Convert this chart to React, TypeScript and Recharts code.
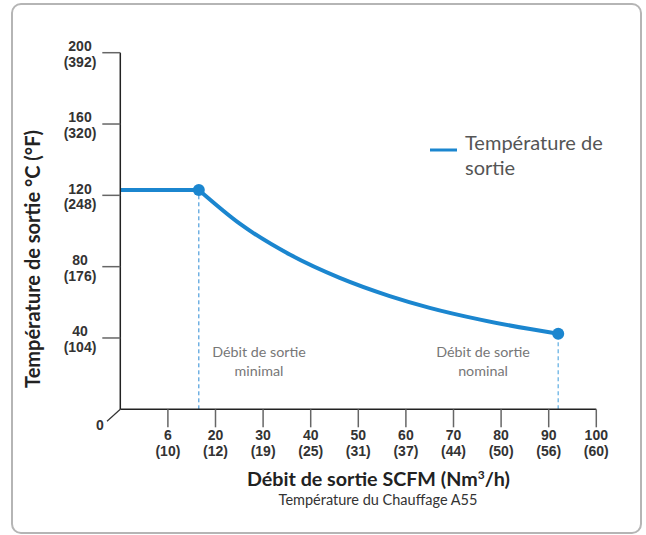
import React from 'react';
import { LineChart, Line, XAxis, YAxis, ReferenceLine } from 'recharts';

// flat part, then the cooling curve
const flatPart = [
  { flow: 0, temp: 123 },
  { flow: 16.5, temp: 123 },
];
const curvePart = [
  { flow: 16.5, temp: 123 },
  { flow: 25.1, temp: 104.1 },
  { flow: 35.6, temp: 86.8 },
  { flow: 46.1, temp: 73.7 },
  { flow: 56.6, temp: 63.5 },
  { flow: 65, temp: 56.9 },
  { flow: 75.6, temp: 50.3 },
  { flow: 86.1, temp: 45 },
  { flow: 92, temp: 42.4 },
];
const xTicks = [10, 20, 30, 40, 50, 60, 70, 80, 90, 100];
const xTickTop = ['6', '20', '30', '40', '50', '60', '70', '80', '90', '100'];
const xTickBottom = ['(10)', '(12)', '(19)', '(25)', '(31)', '(37)', '(44)', '(50)', '(56)', '(60)'];
const yTicks = [0, 40, 80, 120, 160, 200];
const yTickTop = ['0', '40', '80', '120', '160', '200'];
const yTickBottom = ['', '(104)', '(176)', '(248)', '(320)', '(392)'];

const W = 646;
const H = 535;
const PLOT_LEFT = 120.3;
const PLOT_RIGHT = 596.3;
const PLOT_TOP = 52.7;
const PLOT_BOTTOM = 409.3;
const BLUE = '#1b86cf';
const FONT = 'Lato, "Noto Sans", sans-serif';
const TICK_FONT = '"Liberation Sans", Arial, sans-serif';

// one <text> per tick, two lines as tspans
const XTick = ({ x, payload }: any) => {
  const i = xTicks.indexOf(payload.value);
  return (
    <text x={x} y={PLOT_BOTTOM + 31} textAnchor="middle" fontSize={14} fontWeight={700} fill="#333" fontFamily={TICK_FONT}>
      <tspan x={x}>{xTickTop[i]}</tspan>
      <tspan x={x} dy={15.6}>{xTickBottom[i]}</tspan>
    </text>
  );
};

const YTick = ({ y, payload }: any) => {
  const i = yTicks.indexOf(payload.value);
  if (payload.value === 0) {
    return (
      <g>
        <line x1={107} y1={y + 12} x2={PLOT_LEFT} y2={y} stroke="#333" strokeWidth={1.2} />
        <text x={100} y={y + 21} textAnchor="middle" fontSize={14} fontWeight={700} fill="#333" fontFamily={TICK_FONT}>
          0
        </text>
      </g>
    );
  }
  return (
    <g>
      <line x1={PLOT_LEFT - 18} y1={y} x2={PLOT_LEFT} y2={y} stroke="#666" strokeWidth={1.5} />
      <text x={80} y={y - 1.7} textAnchor="middle" fontSize={14} fontWeight={700} fill="#333" fontFamily={TICK_FONT}>
        <tspan x={80}>{yTickTop[i]}</tspan>
        <tspan x={80} dy={15.7}>{yTickBottom[i]}</tspan>
      </text>
    </g>
  );
};

const EndDot = (props: any) => {
  const { cx, cy, index } = props;
  if (index === 0 || index === curvePart.length - 1) {
    return <circle key={`d-${index}`} cx={cx} cy={cy} r={6} fill={BLUE} />;
  }
  return <g key={`d-${index}`} />;
};

const minPoint = curvePart[0];
const nomPoint = curvePart[curvePart.length - 1];

export default function App() {
  return (
    <div style={{ position: 'absolute', left: 0, top: 0, width: W, height: H, background: '#fff', fontFamily: FONT }}>
      <div
        style={{
          position: 'absolute',
          left: 11,
          top: 3,
          width: 627,
          height: 527,
          border: '2px solid #b5b5b5',
          borderRadius: 10,
        }}
      />
      <div style={{ position: 'absolute', left: 0, top: 0 }}>
        <LineChart
          width={W}
          height={H}
          margin={{ top: PLOT_TOP, right: W - PLOT_RIGHT, bottom: H - PLOT_BOTTOM - 60, left: PLOT_LEFT - 60 }}
        >
          <XAxis
            type="number"
            dataKey="flow"
            domain={[0, 100]}
            ticks={xTicks}
            interval={0}
            height={60}
            tickSize={18}
            tickLine={{ stroke: '#666', strokeWidth: 1.5 }}
            axisLine={{ stroke: '#222', strokeWidth: 1.5 }}
            tick={<XTick />}
            allowDataOverflow
          />
          <YAxis
            type="number"
            domain={[0, 200]}
            ticks={yTicks}
            interval={0}
            width={60}
            tickLine={false}
            axisLine={{ stroke: '#222', strokeWidth: 1.5 }}
            tick={<YTick />}
          />
          <ReferenceLine
            segment={[{ x: minPoint.flow, y: 0 }, { x: minPoint.flow, y: minPoint.temp }]}
            stroke="#2a8ad4"
            strokeWidth={1}
            strokeDasharray="4 3"
          />
          <ReferenceLine
            segment={[{ x: nomPoint.flow, y: 0 }, { x: nomPoint.flow, y: nomPoint.temp }]}
            stroke="#7dbde8"
            strokeWidth={1.5}
            strokeDasharray="4 3"
          />
          <Line
            data={flatPart}
            dataKey="temp"
            type="linear"
            stroke={BLUE}
            strokeWidth={4}
            dot={false}
            isAnimationActive={false}
          />
          <Line
            data={curvePart}
            dataKey="temp"
            type="monotone"
            stroke={BLUE}
            strokeWidth={4}
            dot={<EndDot />}
            activeDot={false}
            isAnimationActive={false}
          />
        </LineChart>
      </div>
      <svg width={W} height={H} style={{ position: 'absolute', left: 0, top: 0, pointerEvents: 'none' }}>
        <text
          transform="translate(40, 259) rotate(-90)"
          textAnchor="middle"
          fontSize={20}
          fontWeight={700}
          fill="#222"
          fontFamily={FONT}
        >
          Température de sortie °C (°F)
        </text>
        <text x={378.5} y={486} textAnchor="middle" fontSize={19.7} fontWeight={700} fill="#222" fontFamily={FONT}>
          Débit de sortie SCFM (Nm<tspan fontSize={12} dy={-7}>3</tspan>
          <tspan dy={7}>/h)</tspan>
        </text>
        <text x={378} y={505} textAnchor="middle" fontSize={14.5} fill="#333" fontFamily={FONT}>
          Température du Chauffage A55
        </text>
        <text x={259} y={357} textAnchor="middle" fontSize={14.3} fill="#777" fontFamily={FONT}>
          <tspan x={259}>Débit de sortie</tspan>
          <tspan x={259} dy={19}>minimal</tspan>
        </text>
        <text x={483} y={357} textAnchor="middle" fontSize={14.3} fill="#777" fontFamily={FONT}>
          <tspan x={483}>Débit de sortie</tspan>
          <tspan x={483} dy={19}>nominal</tspan>
        </text>
        <line x1={430} y1={150} x2={457} y2={150} stroke={BLUE} strokeWidth={3} />
        <text x={465} y={150} fontSize={20} fill="#555" fontFamily={FONT}>
          <tspan x={465}>Température de</tspan>
          <tspan x={465} dy={25}>sortie</tspan>
        </text>
      </svg>
    </div>
  );
}
